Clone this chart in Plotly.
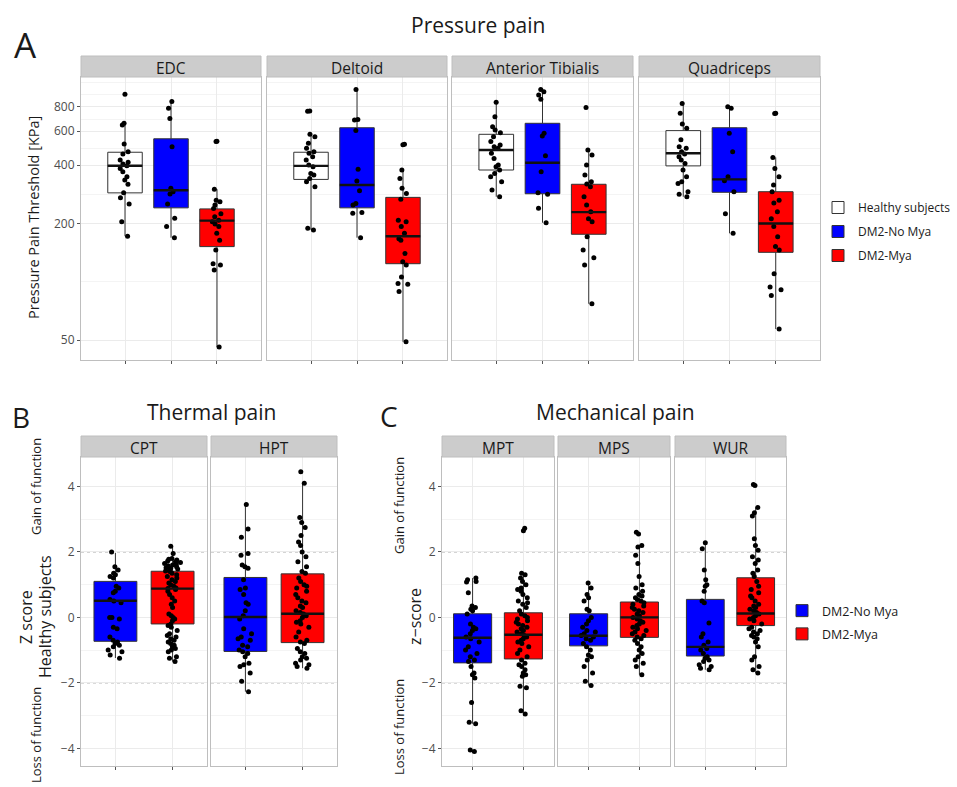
import plotly.graph_objects as go

W, H = 957, 787

# ---------------- Panel A : Pressure pain (KPa) ----------------
muscles = ["EDC", "Deltoid", "Anterior Tibialis", "Quadriceps"]
groups_a = ["Healthy subjects", "DM2-No Mya", "DM2-Mya"]

edc_healthy = [930, 659, 646, 515, 470, 457, 426, 414, 406, 398, 385, 370, 349, 336, 319, 288, 272, 252, 204, 172]
edc_nomya = [853, 787, 698, 499, 304, 292, 284, 252, 213, 193, 169]
edc_mya = [532, 530, 301, 264, 259, 249, 239, 225, 217, 208, 204, 199, 193, 178, 164, 146, 124, 122, 115, 46]
del_healthy = [762, 760, 578, 562, 519, 489, 470, 461, 443, 426, 401, 393, 363, 356, 342, 329, 310, 189, 185]
del_nomya = [986, 690, 685, 604, 381, 332, 295, 254, 249, 228, 226, 169]
del_mya = [513, 510, 378, 342, 304, 286, 267, 208, 204, 193, 178, 167, 164, 140, 127, 122, 106, 98, 97, 89, 49]
at_healthy = [846, 713, 633, 609, 589, 562, 530, 509, 499, 489, 461, 434, 401, 393, 378, 363, 349, 329, 298, 275]
at_nomya = [986, 959, 923, 877, 585, 566, 448, 370, 288, 283, 240, 202]
at_mya = [796, 480, 452, 401, 356, 329, 320, 310, 275, 249, 230, 212, 204, 171, 146, 133, 122, 77]
quad_healthy = [835, 742, 653, 621, 541, 499, 489, 470, 457, 443, 426, 409, 378, 349, 329, 322, 292, 283, 275]
quad_nomya = [803, 787, 585, 470, 349, 333, 292, 225, 178]
quad_mya = [742, 740, 439, 385, 349, 316, 292, 264, 255, 230, 212, 193, 171, 152, 146, 110, 94, 91, 85, 57]

# box statistics per group, one value per muscle (EDC, Deltoid, AT, Quadriceps)
healthy_q1 = [288, 338, 378, 397]
healthy_med = [398, 397, 480, 461]
healthy_q3 = [467, 467, 578, 604]
healthy_lo = [172, 185, 275, 275]
healthy_hi = [659, 578, 846, 835]
nomya_a_q1 = [241, 241, 285, 290]
nomya_a_med = [297, 316, 412, 338]
nomya_a_q3 = [548, 625, 659, 625]
nomya_a_lo = [169, 169, 202, 178]
nomya_a_hi = [853, 986, 986, 803]
mya_a_q1 = [152, 124, 176, 142]
mya_a_med = [207, 172, 229, 200]
mya_a_q3 = [238, 273, 319, 292]
mya_a_lo = [46, 49, 77, 57]
mya_a_hi = [301, 378, 480, 439]

a_ticks = [50, 200, 400, 600, 800]
a_minor = [100, 283, 490, 693, 924, 1067]

# ---------------- Panel B : Thermal pain (z-score) ----------------
thermal_tests = ["CPT", "HPT"]
groups_z = ["DM2-No Mya", "DM2-Mya"]
cpt_nomya = [2.0, 1.55, 1.45, 1.35, 1.3, 1.25, 1.2, 0.95, 0.9, 0.8, 0.75, 0.55, 0.5, 0.45, 0.0, 0.0, -0.05,
             -0.3, -0.35, -0.6, -0.7, -0.75, -0.8, -0.85, -0.9, -1.0, -1.05, -1.15, -1.25]
cpt_mya = [2.17, 1.95, 1.8, 1.78, 1.75, 1.72, 1.7, 1.68, 1.65, 1.62, 1.6, 1.58, 1.55, 1.52, 1.5, 1.48, 1.45,
           1.42, 1.4, 1.35, 1.3, 1.25, 1.2, 1.15, 1.1, 1.05, 1.0, 0.95, 0.9, 0.88, 0.85, 0.8, 0.7, 0.6, 0.5,
           0.4, 0.3, 0.1, 0.05, 0.0, -0.05, -0.1, -0.2, -0.25, -0.3, -0.4, -0.5, -0.55, -0.6, -0.65, -0.7,
           -0.75, -0.8, -0.85, -0.9, -0.95, -1.0, -1.05, -1.2, -1.25, -1.35]
hpt_nomya = [3.45, 2.7, 2.45, 1.95, 1.9, 1.6, 1.55, 1.5, 1.15, 0.9, 0.85, 0.7, 0.45, 0.4, 0.2, 0.05, -0.05,
             -0.35, -0.5, -0.6, -0.65, -0.7, -0.85, -0.9, -1.0, -1.05, -1.1, -1.2, -1.4, -1.45, -1.5, -1.7,
             -1.95, -2.27]
hpt_mya = [4.45, 4.1, 3.05, 2.9, 2.75, 2.5, 2.3, 2.2, 2.0, 1.85, 1.7, 1.55, 1.4, 1.35, 1.2, 1.1, 1.0, 0.95,
           0.9, 0.8, 0.7, 0.6, 0.5, 0.45, 0.35, 0.3, 0.2, 0.15, 0.1, 0.05, 0.0, -0.1, -0.15, -0.2, -0.3,
           -0.45, -0.6, -0.7, -0.75, -0.8, -0.95, -1.05, -1.1, -1.2, -1.25, -1.3, -1.4, -1.45, -1.5, -1.55]
nomya_b_q1 = [-0.73, -1.04]
nomya_b_med = [0.51, 0.01]
nomya_b_q3 = [1.1, 1.22]
nomya_b_lo = [-1.24, -2.27]
nomya_b_hi = [1.97, 3.45]
mya_b_q1 = [-0.2, -0.77]
mya_b_med = [0.88, 0.11]
mya_b_q3 = [1.41, 1.33]
mya_b_lo = [-1.35, -1.55]
mya_b_hi = [2.17, 4.1]

# ---------------- Panel C : Mechanical pain (z-score) ----------------
mech_tests = ["MPT", "MPS", "WUR"]
mpt_nomya = [1.2, 1.15, 1.1, 1.08, 0.75, 0.35, 0.3, 0.25, 0.2, 0.1, -0.2, -0.3, -0.35, -0.4, -0.5, -0.6,
             -0.65, -0.75, -0.9, -1.0, -1.1, -1.2, -1.3, -1.35, -1.5, -1.7, -1.75, -1.85, -2.6, -3.2, -3.25,
             -4.05, -4.1]
mpt_mya = [2.72, 2.65, 1.35, 1.3, 1.2, 1.1, 1.0, 0.9, 0.85, 0.8, 0.7, 0.6, 0.5, 0.45, 0.4, 0.3, 0.2, 0.1,
           0.05, 0.0, -0.05, -0.1, -0.15, -0.2, -0.25, -0.3, -0.35, -0.4, -0.45, -0.5, -0.55, -0.6, -0.65,
           -0.7, -0.75, -0.8, -0.9, -1.0, -1.1, -1.2, -1.3, -1.4, -1.45, -1.5, -1.6, -1.7, -1.75, -1.8,
           -2.1, -2.15, -2.85, -2.95]
mps_nomya = [1.05, 0.9, 0.7, 0.6, 0.5, 0.25, 0.2, 0.0, -0.1, -0.2, -0.3, -0.4, -0.45, -0.5, -0.55, -0.6,
             -0.65, -0.7, -0.8, -0.9, -1.0, -1.15, -1.2, -1.3, -1.5, -1.7, -1.95, -2.08]
mps_mya = [2.6, 2.55, 2.2, 2.15, 1.9, 1.65, 1.25, 1.0, 0.9, 0.8, 0.7, 0.65, 0.6, 0.55, 0.5, 0.45, 0.4,
           0.35, 0.3, 0.25, 0.2, 0.15, 0.1, 0.05, 0.0, -0.05, -0.1, -0.15, -0.2, -0.25, -0.3, -0.35, -0.4,
           -0.45, -0.5, -0.55, -0.6, -0.65, -0.7, -0.8, -0.9, -1.0, -1.1, -1.2, -1.3, -1.4, -1.5, -1.75]
wur_nomya = [2.28, 2.1, 1.45, 1.15, 1.0, 0.95, 0.8, 0.5, 0.45, -0.17, -0.5, -0.6, -0.75, -0.85, -0.95,
             -1.0, -1.1, -1.2, -1.25, -1.3, -1.35, -1.45, -1.5, -1.55, -1.6]
wur_mya = [4.06, 4.03, 3.36, 3.2, 3.1, 2.4, 2.2, 2.05, 1.85, 1.75, 1.65, 1.45, 1.35, 1.25, 1.1, 0.95, 0.85,
           0.75, 0.65, 0.6, 0.5, 0.4, 0.35, 0.3, 0.25, 0.2, 0.15, 0.1, 0.05, 0.0, -0.05, -0.1, -0.2, -0.3,
           -0.35, -0.4, -0.45, -0.5, -0.55, -0.6, -0.65, -0.75, -0.9, -1.2, -1.3, -1.5, -1.6, -1.7]
nomya_c_q1 = [-1.39, -0.87, -1.18]
nomya_c_med = [-0.62, -0.56, -0.9]
nomya_c_q3 = [0.11, 0.11, 0.55]
nomya_c_lo = [-3.25, -2.08, -1.6]
nomya_c_hi = [1.2, 1.05, 2.28]
mya_c_q1 = [-1.27, -0.61, -0.25]
mya_c_med = [-0.53, 0.0, 0.12]
mya_c_q3 = [0.14, 0.47, 1.21]
mya_c_lo = [-2.95, -1.75, -1.7]
mya_c_hi = [1.35, 2.2, 3.36]

z_ticks = [-4, -2, 0, 2, 4]
z_minor = [-3, -1, 1, 3]
z_thresholds = [-2, 2]

# ---------------- styling ----------------
FONT = "Open Sans"
COL = {"Healthy subjects": "#FFFFFF", "DM2-No Mya": "#0000FF", "DM2-Mya": "#FF0000"}
BOXW = 0.75


def X(px):
    return px / W


def Y(px):
    return 1 - px / H


fig = go.Figure()
layout = dict(
    width=W, height=H, margin=dict(l=0, r=0, t=0, b=0, autoexpand=False),
    paper_bgcolor="white", plot_bgcolor="white",
    font=dict(family=FONT, color="#1A1A1A"),
    showlegend=True, boxmode="overlay",
)
shapes, annotations = [], []

# facet geometry in pixels
facets = []
a_x = [(81, 261), (267, 447), (452, 633), (639, 820)]
b_x = [(81, 207), (211, 337)]
c_x = [(442, 554), (558, 670), (675, 786)]
for i, m in enumerate(muscles):
    facets.append(dict(label=m, x=a_x[i], top=56, ptop=77, bot=360, kind="A"))
for i, t in enumerate(thermal_tests):
    facets.append(dict(label=t, x=b_x[i], top=436, ptop=457, bot=766, kind="B"))
for i, t in enumerate(mech_tests):
    facets.append(dict(label=t, x=c_x[i], top=436, ptop=457, bot=766, kind="C"))

first_of_kind = {"A": 1, "B": 5, "C": 7}

for n, f in enumerate(facets, start=1):
    xa = "xaxis" if n == 1 else f"xaxis{n}"
    ya = "yaxis" if n == 1 else f"yaxis{n}"
    xr = "x" if n == 1 else f"x{n}"
    yr = "y" if n == 1 else f"y{n}"
    f["xr"], f["yr"] = xr, yr
    ngroups = 3 if f["kind"] == "A" else 2
    pos = list(range(1, ngroups + 1))
    xrange = [0.043, 3.957] if f["kind"] == "A" else [0.398, 2.602]
    layout[xa] = dict(
        domain=[X(f["x"][0]), X(f["x"][1])], anchor=yr, range=xrange,
        tickvals=pos, ticktext=["" for _ in pos], showticklabels=False,
        ticks="outside", ticklen=3, tickcolor="#555555", tickwidth=1,
        showgrid=True, gridcolor="#EBEBEB", gridwidth=1,
        showline=True, mirror=True, linecolor="#BEBEBE", linewidth=1, zeroline=False,
        fixedrange=True,
    )
    first = first_of_kind[f["kind"]]
    yd = dict(domain=[Y(f["bot"]), Y(f["ptop"])], anchor=xr,
              showline=True, mirror=True, linecolor="#BEBEBE", linewidth=1,
              showgrid=True, gridcolor="#EBEBEB", gridwidth=1, zeroline=False,
              tickfont=dict(size=12, color="#4D4D4D", family=FONT),
              fixedrange=True)
    if f["kind"] == "A":
        yd.update(type="log", range=[1.596, 3.058], tickvals=a_ticks,
                  ticktext=[str(v) for v in a_ticks],
                  minor=dict(tickvals=a_minor, showgrid=True, gridcolor="#F4F4F4", ticks=""))
    else:
        yd.update(range=[-4.54, 4.9], tickvals=z_ticks,
                  minor=dict(tickvals=z_minor, showgrid=True, gridcolor="#F4F4F4", ticks=""))
    if n == first:
        yd.update(ticks="outside", ticklen=3, tickcolor="#555555", showticklabels=True)
    else:
        yd.update(ticks="", showticklabels=False,
                  matches="y" if first == 1 else f"y{first}")
    layout[ya] = yd

    # strip
    shapes.append(dict(type="rect", xref="paper", yref="paper",
                       x0=X(f["x"][0]), x1=X(f["x"][1]), y0=Y(f["ptop"]), y1=Y(f["top"]),
                       fillcolor="#CCCCCC", line=dict(color="#BEBEBE", width=1), layer="above"))
    annotations.append(dict(text=f["label"], xref="paper", yref="paper",
                            x=X((f["x"][0] + f["x"][1]) / 2), y=Y((f["top"] + f["ptop"]) / 2 + 1),
                            showarrow=False, font=dict(size=15.5, color="#1A1A1A", family=FONT),
                            xanchor="center", yanchor="middle"))
    if f["kind"] != "A":
        for t in z_thresholds:
            shapes.append(dict(type="line", xref=f"{xr} domain", yref=yr, x0=0, x1=1, y0=t, y1=t,
                               line=dict(color="#9A9A9A", width=1, dash="dot"), layer="below"))


def add_group(xr, yr, posx, name, pts, q1, med, q3, lo, hi, showleg, legend):
    fill = COL[name]
    fig.add_trace(go.Box(
        x=[posx], q1=[q1], median=[med], q3=[q3], lowerfence=[lo], upperfence=[hi],
        width=BOXW, whiskerwidth=0, boxpoints=False, fillcolor=fill,
        line=dict(color="#333333", width=1), name=name, legendgroup=name,
        showlegend=showleg, legend=legend, xaxis=xr, yaxis=yr, hoverinfo="skip"))
    fig.add_trace(go.Scatter(
        x=[posx - BOXW / 2, posx + BOXW / 2], y=[med, med], mode="lines",
        line=dict(color="#111111", width=2.4), showlegend=False, xaxis=xr, yaxis=yr,
        hoverinfo="skip"))
    fig.add_trace(go.Box(
        y=pts, x0=posx, width=BOXW, boxpoints="all", jitter=0.4, pointpos=0,
        fillcolor="rgba(0,0,0,0)", line=dict(color="rgba(0,0,0,0)", width=0),
        marker=dict(color="#000000", size=5), showlegend=False, xaxis=xr, yaxis=yr,
        hoveron="points", name=name))


a_points = [[edc_healthy, edc_nomya, edc_mya], [del_healthy, del_nomya, del_mya],
            [at_healthy, at_nomya, at_mya], [quad_healthy, quad_nomya, quad_mya]]
a_stats = [(healthy_q1, healthy_med, healthy_q3, healthy_lo, healthy_hi),
           (nomya_a_q1, nomya_a_med, nomya_a_q3, nomya_a_lo, nomya_a_hi),
           (mya_a_q1, mya_a_med, mya_a_q3, mya_a_lo, mya_a_hi)]
for mi in range(len(muscles)):
    f = facets[mi]
    for gi, g in enumerate(groups_a):
        s = a_stats[gi]
        add_group(f["xr"], f["yr"], gi + 1, g, a_points[mi][gi],
                  s[0][mi], s[1][mi], s[2][mi], s[3][mi], s[4][mi], mi == 0, "legend")

b_points = [[cpt_nomya, cpt_mya], [hpt_nomya, hpt_mya]]
b_stats = [(nomya_b_q1, nomya_b_med, nomya_b_q3, nomya_b_lo, nomya_b_hi),
           (mya_b_q1, mya_b_med, mya_b_q3, mya_b_lo, mya_b_hi)]
for ti in range(len(thermal_tests)):
    f = facets[4 + ti]
    for gi, g in enumerate(groups_z):
        s = b_stats[gi]
        add_group(f["xr"], f["yr"], gi + 1, g, b_points[ti][gi],
                  s[0][ti], s[1][ti], s[2][ti], s[3][ti], s[4][ti], False, "legend2")

c_points = [[mpt_nomya, mpt_mya], [mps_nomya, mps_mya], [wur_nomya, wur_mya]]
c_stats = [(nomya_c_q1, nomya_c_med, nomya_c_q3, nomya_c_lo, nomya_c_hi),
           (mya_c_q1, mya_c_med, mya_c_q3, mya_c_lo, mya_c_hi)]
for ti in range(len(mech_tests)):
    f = facets[6 + ti]
    for gi, g in enumerate(groups_z):
        s = c_stats[gi]
        add_group(f["xr"], f["yr"], gi + 1, g, c_points[ti][gi],
                  s[0][ti], s[1][ti], s[2][ti], s[3][ti], s[4][ti], ti == 0, "legend2")

layout["legend"] = dict(x=X(818), y=Y(193), xanchor="left", yanchor="top",
                        font=dict(size=12, color="#1A1A1A", family=FONT),
                        bgcolor="rgba(0,0,0,0)", tracegroupgap=5, itemwidth=30,
                        traceorder="grouped")
layout["legend2"] = dict(x=X(782), y=Y(596), xanchor="left", yanchor="top",
                         font=dict(size=12.5, color="#1A1A1A", family=FONT),
                         bgcolor="rgba(0,0,0,0)", tracegroupgap=4, itemwidth=30,
                         traceorder="grouped")


def txt(s, x, y, size, angle=0, xanchor="center", color="#1A1A1A"):
    annotations.append(dict(text=s, xref="paper", yref="paper", x=X(x), y=Y(y),
                            showarrow=False, textangle=angle, xanchor=xanchor, yanchor="middle",
                            font=dict(size=size, color=color, family=FONT)))


txt("A", 12, 44, 35, xanchor="left")
txt("Pressure pain", 478, 25, 21)
txt("B", 10, 417, 28, xanchor="left")
txt("Thermal pain", 211, 412, 21)
txt("C", 378, 416, 28, xanchor="left")
txt("Mechanical pain", 615, 412, 21)

txt("Pressure Pain Threshold [KPa]", 33, 218, 14.5, angle=-90)
txt("Z score", 26, 617, 16, angle=-90)
txt("Healthy subjects", 45, 617, 16, angle=-90)
txt("Gain of function", 36, 487, 13, angle=-90)
txt("Loss of function", 36, 735, 13, angle=-90)
txt("z\u2212score", 415, 617, 16, angle=-90)
txt("Gain of function", 399, 506, 13, angle=-90)
txt("Loss of function", 399, 727, 13, angle=-90)

layout["shapes"] = shapes
layout["annotations"] = annotations
fig.update_layout(**layout)
fig.write_html("out.html")
